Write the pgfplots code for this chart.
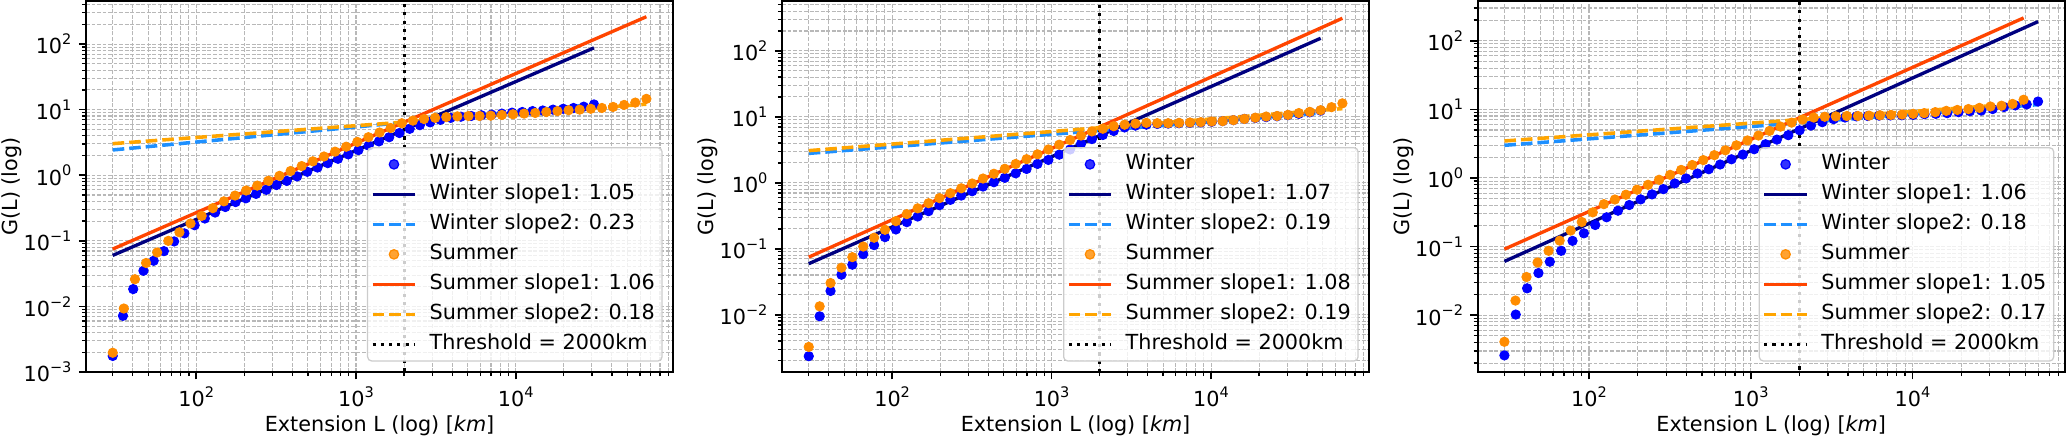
\documentclass[border=0pt]{standalone}
\usepackage{fontspec}
\setmainfont{DejaVu Sans}
\usepackage{pgfplots}
\pgfplotsset{compat=1.18}
\definecolor{cwin}{RGB}{0,0,255}
\definecolor{cnavy}{RGB}{0,0,128}
\definecolor{cdodger}{RGB}{30,144,255}
\definecolor{csum}{RGB}{255,140,0}
\definecolor{cored}{RGB}{255,69,0}
\definecolor{corange}{RGB}{255,165,0}
\definecolor{cgrid}{RGB}{184,184,184}
\definecolor{cleg}{RGB}{204,204,204}
\newcommand\tp[1]{10\raisebox{0.45em}{\fontsize{7}{7}\selectfont #1}}
\pgfplotsset{
 every axis/.append style={
  scale only axis, width=281.8bp, height=178.1bp,
  grid=both,
  major grid style={cgrid, line width=0.5bp, dash pattern=on 1.85bp off 0.8bp},
  minor grid style={cgrid, line width=0.5bp, dash pattern=on 1.85bp off 0.8bp},
  tick align=outside, tick pos=left,
  major tick length=3.5bp, minor tick length=2bp,
  axis line style={black, line width=0.8bp},
  xtick={100,1000,10000}, xticklabels={\tp{2},\tp{3},\tp{4}},
  tick label style={font=\fontsize{10}{12}\selectfont},
  xlabel={Extension L (log) [\textit{km}]}, ylabel={G(L) (log)},
  xlabel style={at={(axis description cs:0.5,-0.1606)}, anchor=base, font=\fontsize{10}{12}\selectfont},
  ylabel style={at={(axis description cs:-0.1164,0.5)}, anchor=base, font=\fontsize{10}{12}\selectfont},
  legend cell align=left,
  legend style={
   at={(axis description cs:0.9823,0.0281)}, anchor=south east,
   font=\fontsize{10}{12}\selectfont,
   draw=cleg, line width=0.6bp, rounded corners=2bp,
   fill=white, fill opacity=0.8, draw opacity=1, text opacity=1,
   inner xsep=1.5bp, inner ysep=0.8bp,
   row sep=0pt, column sep=4bp,
   nodes={inner xsep=2bp, inner ysep=2.3bp, text height=7.6bp, text depth=2.2bp, fill opacity=1, text opacity=1},
  },
  legend image code/.code={\draw[mark repeat=2,mark phase=2,#1] plot coordinates {(0bp,0bp) (10.3bp,0bp) (20.6bp,0bp)};},
 },
 every major tick/.append style={black, line width=0.8bp},
 every minor tick/.append style={black, line width=0.6bp},
}
\begin{document}
\begin{tikzpicture}
\useasboundingbox (-41.3bp,-30.7bp) rectangle (950.9bp,178.6bp);
% ---------------- Panel 1 ----------------
\begin{axis}[xmode=log, ymode=log, at={(0bp,0bp)},
  xmin=20.42, xmax=96600, ymin=0.001, ymax=452,
  minor xtick={30,40,50,60,70,80,90,200,300,400,500,600,700,800,900,2000,3000,4000,5000,6000,7000,8000,9000,20000,30000,40000,50000,60000,70000,80000,90000},
  ytick={0.001,0.01,0.1,1,10,100},
  yticklabels={\tp{−3},\tp{−2},\tp{−1},\tp{0},\tp{1},\tp{2}},
  minor ytick={0.002,0.003,0.004,0.005,0.006,0.007,0.008,0.009,0.02,0.03,0.04,0.05,0.06,0.07,0.08,0.09,0.2,0.3,0.4,0.5,0.6,0.7,0.8,0.9,2,3,4,5,6,7,8,9,20,30,40,50,60,70,80,90,200,300,400},
]
\addplot[only marks, mark=*, mark size=2.25bp, color=cwin, mark options={draw=none, fill=cwin}] table {
x y
30.00 0.00176
34.77 0.0072
40.30 0.0184
46.71 0.035
54.14 0.0497
62.75 0.0697
72.73 0.098
84.30 0.130
97.71 0.173
113.2 0.219
131.3 0.270
152.1 0.328
176.3 0.39
204.4 0.445
236.9 0.52
274.6 0.60
318.2 0.71
368.8 0.82
427.5 0.96
495.5 1.13
574.3 1.31
665.6 1.53
771.5 1.78
894.2 2.08
1036 2.42
1201 2.83
1392 3.28
1614 3.80
1870 4.40
2168 5.1
2512 5.8
2912 6.4
3375 7.0
3912 7.5
4534 7.8
5255 8.0
6091 8.2
7060 8.4
8182 8.7
9484 9.0
10992 9.2
12740 9.5
14766 9.7
17114 10.0
19836 10.3
22991 10.6
26648 11.1
30886 12.0
};
\addlegendentry{Winter}
\addplot[cnavy, line width=1.6bp, mark=none] coordinates {(30,0.06) (30886,87.4)};
\addlegendentry{Winter slope1: 1.05}
\addplot[cdodger, line width=1.7bp, mark=none, dash pattern=on 5.55bp off 2.4bp] coordinates {(30,2.43) (30886,11.98)};
\addlegendentry{Winter slope2: 0.23}
\addplot[only marks, mark=*, mark size=2.25bp, color=csum, mark options={draw=none, fill=csum}] table {
x y
30.00 0.00197
35.21 0.0093
41.33 0.026
48.51 0.046
56.94 0.0665
66.84 0.100
78.46 0.135
92.10 0.184
108.1 0.240
126.9 0.315
149.0 0.40
174.9 0.49
205.2 0.585
240.9 0.695
282.8 0.825
331.9 0.98
389.6 1.16
457.3 1.38
536.8 1.63
630.1 1.93
739.7 2.29
868.2 2.72
1019 3.22
1196 3.80
1404 4.48
1648 5.25
1935 6.2
2271 6.8
2666 7.2
3129 7.5
3673 7.7
4311 7.9
5061 8.0
5940 8.0
6973 8.1
8185 8.3
9607 8.5
11277 8.7
13237 8.9
15538 9.2
18239 9.5
21409 9.8
25130 10.0
29498 10.3
34625 10.6
40643 11.0
47707 11.8
55999 12.8
65732 14.6
};
\addlegendentry{Summer}
\addplot[cored, line width=1.6bp, mark=none] coordinates {(30,0.075) (65732,260.7)};
\addlegendentry{Summer slope1: 1.06}
\addplot[corange, line width=1.7bp, mark=none, dash pattern=on 5.55bp off 2.4bp] coordinates {(30,3.03) (65732,12.1)};
\addlegendentry{Summer slope2: 0.18}
\addplot[black, line width=1.5bp, mark=none, dash pattern=on 1.5bp off 2.475bp] coordinates {(2000,0.0001) (2000,10000)};
\addlegendentry{Threshold = 2000km}
\end{axis}
% ---------------- Panel 2 ----------------
\begin{axis}[xmode=log, ymode=log, at={(334.1bp,0bp)},
  xmin=20.4, xmax=98000, ymin=0.00135, ymax=569,
  minor xtick={30,40,50,60,70,80,90,200,300,400,500,600,700,800,900,2000,3000,4000,5000,6000,7000,8000,9000,20000,30000,40000,50000,60000,70000,80000,90000},
  ytick={0.01,0.1,1,10,100},
  yticklabels={\tp{−2},\tp{−1},\tp{0},\tp{1},\tp{2}},
  minor ytick={0.002,0.003,0.004,0.005,0.006,0.007,0.008,0.009,0.02,0.03,0.04,0.05,0.06,0.07,0.08,0.09,0.2,0.3,0.4,0.5,0.6,0.7,0.8,0.9,2,3,4,5,6,7,8,9,20,30,40,50,60,70,80,90,200,300,400,500},
]
\addplot[only marks, mark=*, mark size=2.25bp, color=cwin, mark options={draw=none, fill=cwin}] table {
x y
30.00 0.00235
35.11 0.00946
41.09 0.0229
48.09 0.0404
56.28 0.0573
65.87 0.0828
77.09 0.1135
90.22 0.150
105.6 0.196
123.6 0.253
144.6 0.308
169.2 0.371
198.1 0.457
231.8 0.551
271.3 0.64
317.4 0.745
371.5 0.877
434.8 1.02
508.8 1.19
595.5 1.39
696.9 1.62
815.6 1.93
954.4 2.22
1117 2.67
1307 3.2
1530 3.9
1790 4.6
2095 5.3
2452 6.1
2870 6.9
3358 7.35
3930 7.6
4600 7.8
5383 7.9
6300 8.0
7372 8.1
8628 8.2
10097 8.4
11817 8.6
13829 8.9
16184 9.3
18940 9.6
22166 9.9
25941 10.2
30359 10.6
35529 11.1
41580 11.7
48661 12.4
};
\addlegendentry{Winter}
\addplot[cnavy, line width=1.6bp, mark=none] coordinates {(30,0.0593) (48661,155)};
\addlegendentry{Winter slope1: 1.07}
\addplot[cdodger, line width=1.7bp, mark=none, dash pattern=on 5.55bp off 2.4bp] coordinates {(30,2.79) (48661,11.4)};
\addlegendentry{Winter slope2: 0.19}
\addplot[only marks, mark=*, mark size=2.25bp, color=csum, mark options={draw=none, fill=csum}] table {
x y
30.00 0.00325
35.11 0.0134
41.09 0.0302
48.09 0.0516
56.28 0.0746
65.87 0.108
77.09 0.147
90.22 0.194
105.6 0.262
123.6 0.335
144.6 0.41
169.2 0.49
198.1 0.585
231.8 0.695
271.3 0.825
317.4 0.975
371.5 1.16
434.8 1.37
508.8 1.63
595.5 1.93
696.9 2.28
815.6 2.70
954.4 3.20
1117 3.78
1307 4.45
1530 5.2
1790 6.0
2095 6.6
2452 7.2
2870 7.6
3358 7.9
3930 8.1
4600 8.0
5383 8.0
6300 8.1
7372 8.2
8628 8.3
10097 8.5
11817 8.6
13829 8.9
16184 9.3
18940 9.7
22166 10.1
25941 10.3
30359 10.7
35529 11.4
41580 11.9
48661 12.6
56948 14.0
66646 16.0
};
\addlegendentry{Summer}
\addplot[cored, line width=1.6bp, mark=none] coordinates {(30,0.0746) (66646,312)};
\addlegendentry{Summer slope1: 1.08}
\addplot[corange, line width=1.7bp, mark=none, dash pattern=on 5.55bp off 2.4bp] coordinates {(30,3.07) (66646,13.3)};
\addlegendentry{Summer slope2: 0.19}
\addplot[black, line width=1.5bp, mark=none, dash pattern=on 1.5bp off 2.475bp] coordinates {(2000,0.0001) (2000,10000)};
\addlegendentry{Threshold = 2000km}
\end{axis}
% ---------------- Panel 3 ----------------
\begin{axis}[xmode=log, ymode=log, at={(668.0bp,0bp)},
  xmin=20.5, xmax=87400, ymin=0.00148, ymax=379,
  minor xtick={30,40,50,60,70,80,90,200,300,400,500,600,700,800,900,2000,3000,4000,5000,6000,7000,8000,9000,20000,30000,40000,50000,60000,70000,80000},
  ytick={0.01,0.1,1,10,100},
  yticklabels={\tp{−2},\tp{−1},\tp{0},\tp{1},\tp{2}},
  minor ytick={0.002,0.003,0.004,0.005,0.006,0.007,0.008,0.009,0.02,0.03,0.04,0.05,0.06,0.07,0.08,0.09,0.2,0.3,0.4,0.5,0.6,0.7,0.8,0.9,2,3,4,5,6,7,8,9,20,30,40,50,60,70,80,90,200,300},
]
\addplot[only marks, mark=*, mark size=2.25bp, color=cwin, mark options={draw=none, fill=cwin}] table {
x y
30.00 0.00259
35.26 0.0102
41.45 0.0246
48.72 0.0411
57.27 0.060
67.32 0.0867
79.13 0.121
93.01 0.156
109.3 0.206
128.5 0.267
151.1 0.333
177.6 0.403
208.7 0.487
245.3 0.576
288.4 0.687
339.0 0.832
398.4 0.984
468.3 1.16
550.5 1.34
647.0 1.57
760.5 1.87
894.0 2.19
1051 2.62
1235 3.10
1452 3.62
1707 4.2
2006 4.95
2358 5.8
2771 6.5
3258 7.2
3829 7.6
4501 7.9
5291 8.0
6219 8.1
7310 8.15
8592 8.2
10099 8.3
11871 8.5
13954 8.6
16402 8.8
19279 9.1
22661 9.4
26637 9.6
31310 10.1
36803 10.8
43259 11.4
50848 11.8
59768 13.0
};
\addlegendentry{Winter}
\addplot[cnavy, line width=1.6bp, mark=none] coordinates {(30,0.0607) (59768,190)};
\addlegendentry{Winter slope1: 1.06}
\addplot[cdodger, line width=1.7bp, mark=none, dash pattern=on 5.55bp off 2.4bp] coordinates {(30,2.99) (59768,11.7)};
\addlegendentry{Winter slope2: 0.18}
\addplot[only marks, mark=*, mark size=2.25bp, color=csum, mark options={draw=none, fill=csum}] table {
x y
30.00 0.00409
35.11 0.0163
41.09 0.036
48.09 0.0586
56.28 0.0867
65.87 0.122
77.09 0.171
90.22 0.228
105.6 0.315
123.6 0.415
144.6 0.485
169.2 0.57
198.1 0.675
231.8 0.795
271.3 0.94
317.4 1.11
371.5 1.31
434.8 1.545
508.8 1.82
595.5 2.15
696.9 2.53
815.6 2.99
954.4 3.52
1117 4.15
1307 4.85
1530 5.6
1790 6.4
2095 7.1
2452 7.6
2870 7.8
3358 7.9
3930 8.0
4600 8.0
5383 8.1
6300 8.2
7372 8.3
8628 8.4
10097 8.6
11817 8.8
13829 9.1
16184 9.5
18940 9.8
22166 10.1
25941 10.5
30359 11.0
35529 11.3
41580 12.0
48661 13.8
};
\addlegendentry{Summer}
\addplot[cored, line width=1.6bp, mark=none] coordinates {(30,0.0916) (48661,215)};
\addlegendentry{Summer slope1: 1.05}
\addplot[corange, line width=1.7bp, mark=none, dash pattern=on 5.55bp off 2.4bp] coordinates {(30,3.46) (48661,12.2)};
\addlegendentry{Summer slope2: 0.17}
\addplot[black, line width=1.5bp, mark=none, dash pattern=on 1.5bp off 2.475bp] coordinates {(2000,0.0001) (2000,10000)};
\addlegendentry{Threshold = 2000km}
\end{axis}
\end{tikzpicture}
\end{document}
